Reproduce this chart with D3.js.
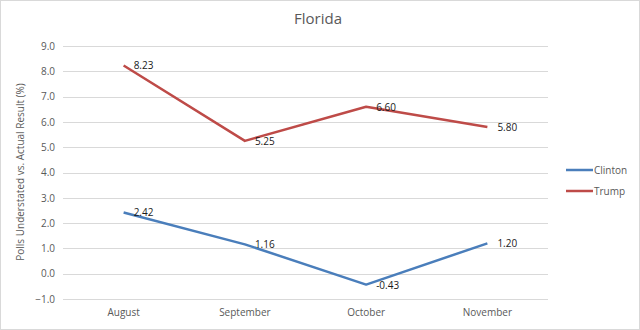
<!DOCTYPE html>
<html><head><meta charset="utf-8">
<script src="https://cdn.jsdelivr.net/npm/d3@7"></script>
<style>body{margin:0;background:#fff}svg{display:block}text{font-family:"Open Sans","Liberation Sans",sans-serif}</style>
</head><body><svg id="c" width="640" height="330"></svg>
<script>
const months = ["August","September","October","November"];
const clinton = [2.42, 1.16, -0.43, 1.20];
const trump = [8.23, 5.25, 6.60, 5.80];
const yTicks = [-1,0,1,2,3,4,5,6,7,8,9];
const seriesNames = ["Clinton","Trump"];
const colors = ["#4a7ebb","#be4b48"];

const svg = d3.select("#c");
svg.append("rect").attr("x",0.5).attr("y",0.5).attr("width",639).attr("height",329).attr("fill","#fff").attr("stroke","#d9d9d9");

const x = d3.scaleBand().domain(months).range([63,548]);
const y = d3.scaleLinear().domain([-1,9]).range([299,46]);

const grid = svg.append("g");
grid.selectAll("line").data(yTicks).join("line")
  .attr("x1",63).attr("x2",548).attr("y1",d=>Math.round(y(d))+0.5).attr("y2",d=>Math.round(y(d))+0.5)
  .attr("stroke","#d9d9d9").attr("stroke-width",1);

const yAxis = svg.append("g").attr("transform","translate(55,0)")
  .call(d3.axisLeft(y).tickValues(yTicks).tickFormat(d3.format(".1f")).tickSize(0).tickPadding(0));
yAxis.select(".domain").remove();
yAxis.selectAll("text").attr("fill","#595959").style("font-size","10px");

const xAxis = svg.append("g").attr("transform","translate(0,309)")
  .call(d3.axisBottom(x).tickSize(0).tickPadding(0));
xAxis.select(".domain").remove();
xAxis.selectAll("text").attr("fill","#595959").style("font-size","10px");

svg.append("text").attr("x",318).attr("y",24).attr("text-anchor","middle")
  .attr("fill","#595959").style("font-size","15px").text("Florida");

svg.append("text").attr("transform","translate(24,172) rotate(-90)").attr("text-anchor","middle")
  .attr("fill","#595959").style("font-size","10px").text("Polls Understated vs. Actual Result (%)");

const cx = d => x(d) + x.bandwidth()/2;
const line = d3.line().x((d,i)=>cx(months[i])).y(d=>y(d));
[clinton, trump].forEach((s,k)=>{
  svg.append("path").datum(s).attr("d",line).attr("fill","none")
    .attr("stroke",colors[k]).attr("stroke-width",2.5).attr("stroke-linejoin","round");
  svg.append("g").selectAll("text").data(s).join("text")
    .attr("x",(d,i)=>cx(months[i])+10)
    .attr("y",(d,i)=>y(d)+4)
    .attr("fill","#1a1a1a").style("font-size","10px")
    .text(d=>d.toFixed(2));
});

const leg = svg.append("g");
seriesNames.forEach((n,k)=>{
  const ly = 170 + k*21;
  leg.append("line").attr("x1",566).attr("x2",593).attr("y1",ly).attr("y2",ly)
    .attr("stroke",colors[k]).attr("stroke-width",2.5);
  leg.append("text").attr("x",594).attr("y",ly+4).attr("fill","#595959").style("font-size","10px").text(n);
});
</script></body></html>
